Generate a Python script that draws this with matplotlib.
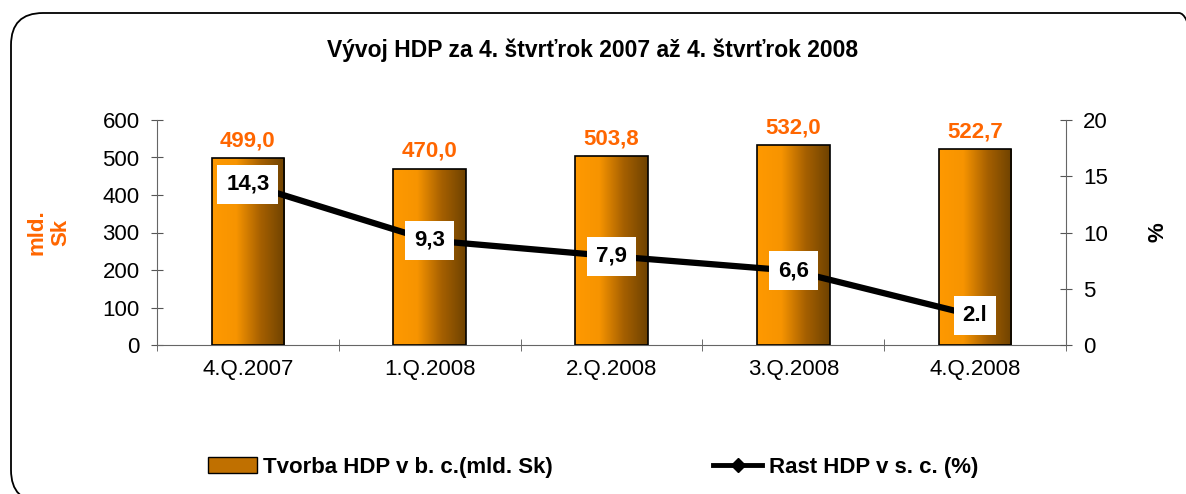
import numpy as np
import matplotlib.pyplot as plt
from matplotlib.patches import FancyBboxPatch, Rectangle
from matplotlib.colors import LinearSegmentedColormap
from matplotlib.lines import Line2D

plt.rcParams['font.family'] = ['Liberation Sans', 'DejaVu Sans']

categories = ['4.Q.2007', '1.Q.2008', '2.Q.2008', '3.Q.2008', '4.Q.2008']
hdp = [499.0, 470.0, 503.8, 532.0, 522.7]
hdp_labels = ['499,0', '470,0', '503,8', '532,0', '522,7']
growth = [14.3, 9.3, 7.9, 6.6, 2.6]
growth_labels = ['14,3', '9,3', '7,9', '6,6', '2.l']

orange = '#FF6600'
grad = LinearSegmentedColormap.from_list('bar', ['#FF9900', '#F79400', '#A66000', '#6E4200'])

fig = plt.figure(figsize=(11.86, 4.94), dpi=100)
# rounded frame in pixels
frame = FancyBboxPatch((11, -8), 1200, 489, boxstyle='round,pad=0,rounding_size=32',
                       transform=None, fill=False, lw=1.3, ec='black')
fig.patches.append(frame)

ax = fig.add_axes([157 / 1186, 149 / 494, 909 / 1186, 225 / 494])
x = np.arange(len(categories))
bars = ax.bar(x, hdp, width=0.4, color='none', edgecolor='black', lw=1.2, zorder=3)
g = np.linspace(0, 1, 256).reshape(1, -1)
for b in bars:
    im = ax.imshow(g, cmap=grad, aspect='auto', zorder=2,
                   extent=[b.get_x(), b.get_x() + b.get_width(), 0, b.get_height()])
    im.set_clip_path(b)
for xi, v, lab in zip(x, hdp, hdp_labels):
    ax.text(xi, v + 18, lab, ha='center', va='bottom', color=orange, fontsize=16, fontweight='bold')

ax.set_xlim(-0.5, 4.5)
ax.set_ylim(0, 600)
ax.set_yticks(range(0, 601, 100))
ax.set_xticks(x)
ax.set_xticklabels(categories)
ax.set_xticks(np.arange(-0.5, 4.6, 1), minor=True)
ax.tick_params(axis='x', which='major', length=0, labelsize=16, pad=10)
ax.tick_params(axis='x', which='minor', length=9, direction='inout', color='#555555')
ax.tick_params(axis='y', length=9, direction='inout', labelsize=16, color='#555555', pad=8)
for s in ['top', 'right']:
    ax.spines[s].set_visible(False)
for s in ['left', 'bottom']:
    ax.spines[s].set_color('#666666')
ax.set_ylabel('mld.\nSk', color=orange, fontsize=16, fontweight='bold', labelpad=22)

ax2 = ax.twinx()
ax2.plot(x, growth, color='black', lw=4.5, zorder=4)
for xi, v, lab in zip(x, growth, growth_labels):
    ax2.text(xi, v, lab, ha='center', va='center', fontsize=16, fontweight='bold', zorder=5,
             bbox=dict(boxstyle='square,pad=0.4', fc='white', ec='none'))
ax2.set_ylim(0, 20)
ax2.set_yticks(range(0, 21, 5))
ax2.tick_params(axis='y', length=9, direction='inout', labelsize=16, color='#555555', pad=8)
for s in ['top', 'left']:
    ax2.spines[s].set_visible(False)
ax2.spines['right'].set_color('#666666')
ax2.spines['bottom'].set_visible(False)
ax2.set_ylabel('%', fontsize=16, fontweight='bold', labelpad=28)

fig.text(0.5, 444 / 494, 'Vývoj HDP za 4. štvrťrok 2007 až 4. štvrťrok 2008',
         ha='center', va='center', fontsize=16.5, fontweight='bold')

h1 = Rectangle((0, 0), 1, 1, fc='#C07000', ec='black')
h2 = Line2D([], [], color='black', lw=3.5, marker='D', ms=7)
fig.legend([h1, h2], ['Tvorba HDP v b. c.(mld. Sk)', 'Rast HDP v s. c. (%)'],
           loc='center', bbox_to_anchor=(0.5, 27 / 494), ncol=2, frameon=False,
           prop={'size': 16, 'weight': 'bold'}, columnspacing=7.2, handlelength=2.2, handletextpad=0.3)

fig.savefig('out.png', dpi=100)
